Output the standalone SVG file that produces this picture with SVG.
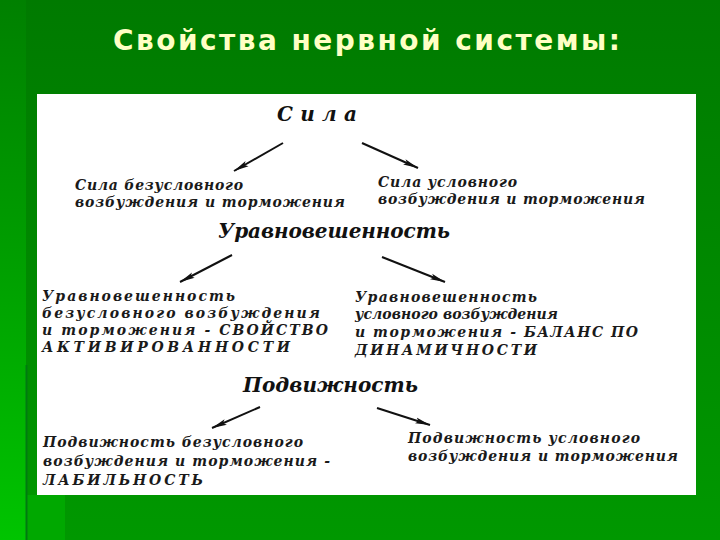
<svg xmlns="http://www.w3.org/2000/svg" width="720" height="540" viewBox="0 0 720 540">
<defs>
<linearGradient id="bg" x1="0" y1="0" x2="0" y2="1">
<stop offset="0" stop-color="#007a00"/>
<stop offset="1" stop-color="#009800"/>
</linearGradient>
<linearGradient id="strip" x1="0" y1="0" x2="0" y2="1">
<stop offset="0" stop-color="#008000"/>
<stop offset="0.5" stop-color="#00a000"/>
<stop offset="1" stop-color="#00c400"/>
</linearGradient>
<marker id="ah" markerUnits="userSpaceOnUse" markerWidth="16" markerHeight="8" refX="15" refY="4" orient="auto">
<path d="M0,1 L15,4 L0,7 L3,4 z" fill="#111"/>
</marker>
<style>
.title{font-family:"DejaVu Sans","Liberation Sans",Arial,sans-serif;font-weight:bold;font-size:28px;fill:#ffffc4}
.h{font-family:"DejaVu Serif","Liberation Serif",serif;font-style:italic;font-weight:bold;font-size:20px;fill:#111}
.t{font-family:"DejaVu Serif","Liberation Serif",serif;font-style:italic;font-weight:bold;font-size:14px;fill:#1a1a1a}
.c{stroke:#111;stroke-width:2;fill:none;marker-end:url(#ah)}
</style>
</defs>
<rect x="0" y="0" width="720" height="540" fill="url(#bg)"/>
<rect x="0" y="0" width="26" height="540" fill="url(#strip)"/>
<rect x="27" y="495" width="38" height="45" fill="#00a800"/>
<line x1="26.5" y1="365" x2="26.5" y2="540" stroke="#007a10" stroke-width="2"/>
<text class="title" x="113" y="50" textLength="507" lengthAdjust="spacing">Свойства нервной системы:</text>
<rect x="37" y="94" width="659" height="401" fill="#ffffff"/>

<g id="connectors">
<line class="c" x1="283" y1="143" x2="234" y2="171"/>
<line class="c" x1="362" y1="143" x2="418" y2="168"/>
<line class="c" x1="232" y1="255" x2="180" y2="282"/>
<line class="c" x1="382" y1="257" x2="445" y2="282"/>
<line class="c" x1="260" y1="407" x2="212" y2="428"/>
<line class="c" x1="377" y1="408" x2="430" y2="425"/>
</g>

<g id="sila">
<text class="h" x="277" y="121" font-size="21" textLength="80" lengthAdjust="spacing">Сила</text>
</g>
<g id="sila-left">
<text class="t" x="75" y="190" textLength="168" lengthAdjust="spacing">Сила безусловного</text>
<text class="t" x="75" y="207" textLength="270" lengthAdjust="spacing">возбуждения и торможения</text>
</g>
<g id="sila-right">
<text class="t" x="378" y="187" textLength="139" lengthAdjust="spacing">Сила условного</text>
<text class="t" x="378" y="204" textLength="267" lengthAdjust="spacing">возбуждения и торможения</text>
</g>

<g id="uravn">
<text class="h" x="218" y="238" textLength="232" lengthAdjust="spacing">Уравновешенность</text>
</g>
<g id="uravn-left">
<text class="t" x="42" y="301" textLength="193" lengthAdjust="spacing">Уравновешенность</text>
<text class="t" x="42" y="318" textLength="278" lengthAdjust="spacing">безусловного возбуждения</text>
<text class="t" x="42" y="335" textLength="286" lengthAdjust="spacing">и торможения - СВОЙСТВО</text>
<text class="t" x="42" y="352" textLength="248" lengthAdjust="spacing">АКТИВИРОВАННОСТИ</text>
</g>
<g id="uravn-right">
<text class="t" x="355" y="302" textLength="182" lengthAdjust="spacing">Уравновешенность</text>
<text class="t" x="355" y="319" textLength="203" lengthAdjust="spacing">условного возбуждения</text>
<text class="t" x="355" y="337" textLength="283" lengthAdjust="spacing">и торможения - БАЛАНС ПО</text>
<text class="t" x="355" y="355" textLength="182" lengthAdjust="spacing">ДИНАМИЧНОСТИ</text>
</g>

<g id="podv">
<text class="h" x="243" y="392" textLength="175" lengthAdjust="spacing">Подвижность</text>
</g>
<g id="podv-left">
<text class="t" x="43" y="447" textLength="260" lengthAdjust="spacing">Подвижность безусловного</text>
<text class="t" x="43" y="466" textLength="287" lengthAdjust="spacing">возбуждения и торможения -</text>
<text class="t" x="43" y="485" textLength="160" lengthAdjust="spacing">ЛАБИЛЬНОСТЬ</text>
</g>
<g id="podv-right">
<text class="t" x="408" y="443" textLength="232" lengthAdjust="spacing">Подвижность условного</text>
<text class="t" x="408" y="461" textLength="270" lengthAdjust="spacing">возбуждения и торможения</text>
</g>
</svg>
